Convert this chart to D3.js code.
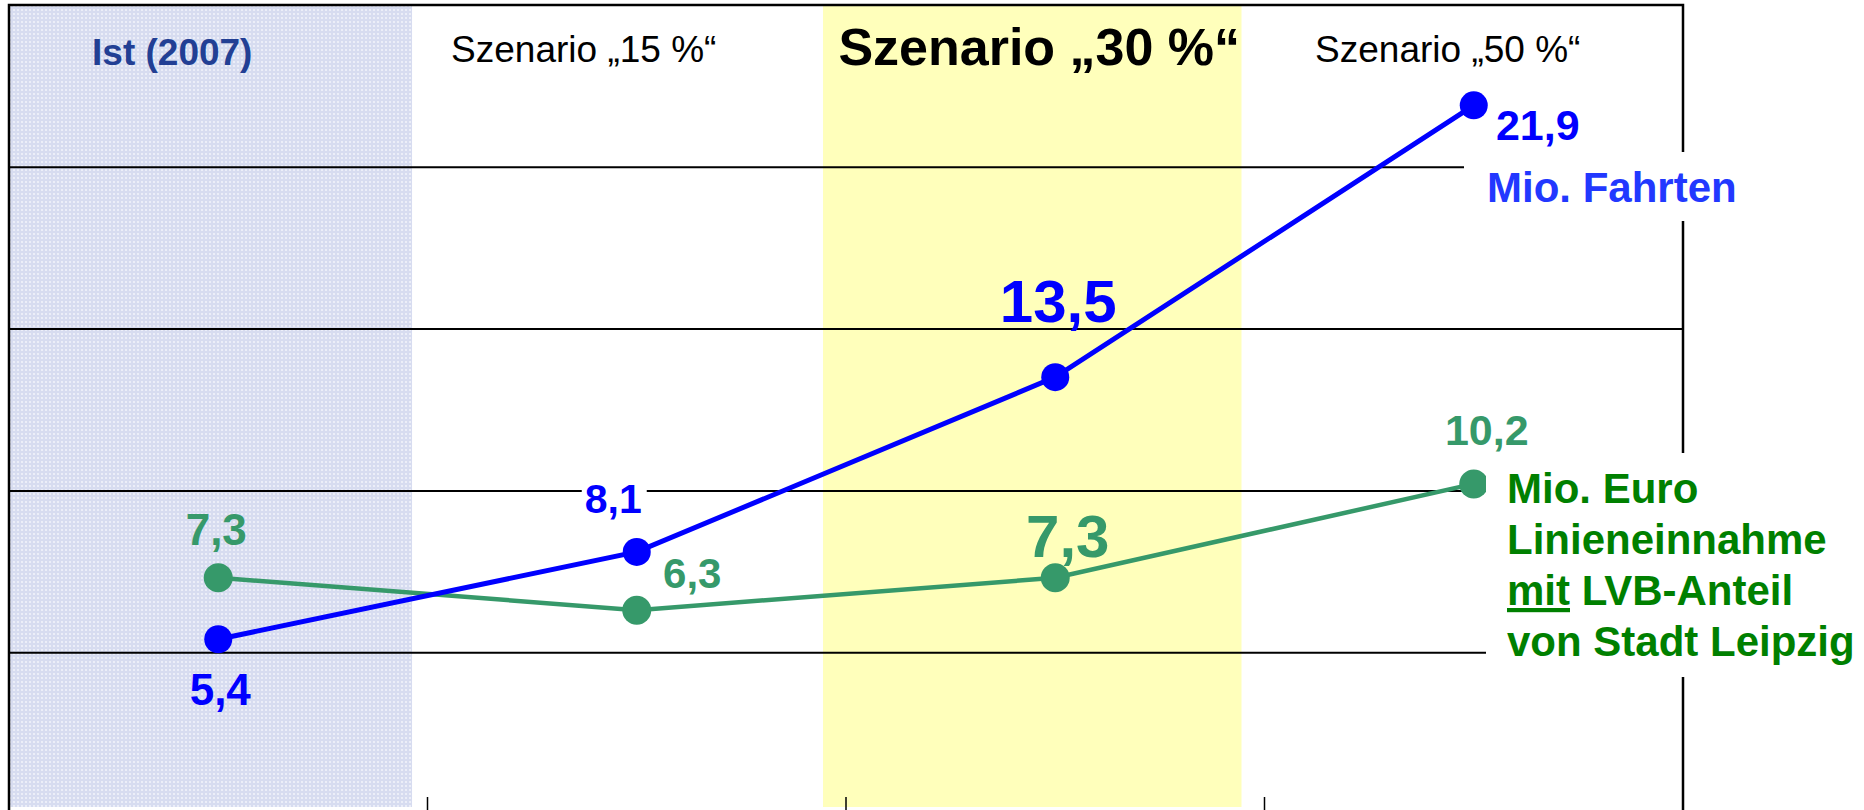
<!DOCTYPE html>
<html lang="de">
<head>
    <meta charset="UTF-8">
    <title>Szenarien Fahrten und Linieneinnahme</title>
    <style>
        body { margin:0; background:#fff; }
        svg { display:block; font-family:"Liberation Sans", Arial, sans-serif; }
    </style>
</head>
<body>
<script src="https://cdn.jsdelivr.net/npm/d3@7/dist/d3.min.js"></script>
<script type="text/javascript">
    // Daten
    var categories = ["Ist (2007)", "Szenario „15 %“", "Szenario „30 %“", "Szenario „50 %“"];
    var fahrten = [5.4, 8.1, 13.5, 21.9];       // Mio. Fahrten
    var einnahmen = [7.3, 6.3, 7.3, 10.2];      // Mio. Euro Linieneinnahme
    var gridValues = [5, 10, 15, 20];
    var yMax = 25;
    var fahrtenLabel = ["Mio. Fahrten"];
    var einnahmenLabel = ["Mio. Euro", "Linieneinnahme", "mit LVB-Anteil", "von Stadt Leipzig"];

    var w = 1864, h = 810;
    // (window.top ist schreibgeschuetzt, daher eigene Namen)
    var pLeft = 9, pRight = 1683, pTop = 5, pBottom = 814;

    var svg = d3.select("body").append("svg")
        .attr("width", w)
        .attr("height", h);

    var x = d3.scaleBand().domain(categories).range([pLeft, pRight]).padding(0);
    var y = d3.scaleLinear().domain([0, yMax]).range([pBottom, pTop]);
    var bw = x.bandwidth();
    var fmt = d3.formatLocale({decimal: ",", thousands: ".", grouping: [3], currency: ["", " €"]}).format(".1f");

    // Punktmuster fuer Ist
    var defs = svg.append("defs");
    var pat = defs.append("pattern").attr("id", "dots")
        .attr("width", 4).attr("height", 4)
        .attr("patternUnits", "userSpaceOnUse");
    pat.append("rect").attr("width", 4).attr("height", 4).attr("fill", "#d7dcf0");
    pat.append("circle").attr("cx", 2).attr("cy", 2).attr("r", 1.1).attr("fill", "#f1f3fa");

    // Hintergrundflaechen
    svg.append("rect")
        .attr("x", x(categories[0]))
        .attr("y", y(yMax))
        .attr("width", bw * 0.963)
        .attr("height", 807 - y(yMax))
        .attr("fill", "url(#dots)");
    svg.append("rect")
        .attr("x", x(categories[2]) - 23)
        .attr("y", y(yMax))
        .attr("width", bw)
        .attr("height", 807 - y(yMax))
        .attr("fill", "#ffffbb");

    // Gitterlinien
    svg.append("g")
        .attr("transform", "translate(" + pLeft + ",0)")
        .call(d3.axisLeft(y).tickValues(gridValues).tickSize(-(pRight - pLeft)).tickFormat(""))
        .call(function (g) { g.select(".domain").remove(); })
        .selectAll("line")
        .attr("stroke", "#000")
        .attr("stroke-width", 2);

    // Rahmen
    svg.append("path")
        .attr("d", "M" + pLeft + "," + pBottom + "V" + y(yMax) + "H" + pRight + "V" + pBottom + "Z")
        .attr("fill", "none")
        .attr("stroke", "#000")
        .attr("stroke-width", 2.5);

    // kleine Striche unten zwischen den Kategorien
    svg.selectAll(".tick-cat")
        .data(categories.slice(1))
        .enter().append("line")
        .attr("x1", function (d) { return x(d); })
        .attr("x2", function (d) { return x(d); })
        .attr("y1", pBottom - 17)
        .attr("y2", pBottom)
        .attr("stroke", "#000")
        .attr("stroke-width", 1.5);

    // Kategorie-Ueberschriften
    var heads = [
        {dx: -46, y: 65, size: 37, weight: "bold", fill: "#223f94"},
        {dx: -53, y: 62, size: 37, weight: "normal", fill: "#000"},
        {dx: -16, y: 65, size: 52, weight: "bold", fill: "#000"},
        {dx: -26, y: 62, size: 37, weight: "normal", fill: "#000"}
    ];
    svg.selectAll(".head")
        .data(categories)
        .enter().append("text")
        .attr("class", "head")
        .text(function (d) { return d; })
        .attr("x", function (d, i) { return x(d) + bw / 2 + heads[i].dx; })
        .attr("y", function (d, i) { return heads[i].y; })
        .attr("text-anchor", "middle")
        .attr("font-size", function (d, i) { return heads[i].size + "px"; })
        .attr("font-weight", function (d, i) { return heads[i].weight; })
        .attr("fill", function (d, i) { return heads[i].fill; });

    var cx = function (d, i) { return x(categories[i]) + bw / 2; };
    var line = d3.line().x(cx).y(function (d) { return y(d); });

    // Linien
    svg.append("path").datum(einnahmen)
        .attr("d", line)
        .attr("fill", "none")
        .attr("stroke", "#36996a")
        .attr("stroke-width", 4.5);
    svg.append("path").datum(fahrten)
        .attr("d", line)
        .attr("fill", "none")
        .attr("stroke", "#0000ff")
        .attr("stroke-width", 5);

    svg.selectAll(".pt-e").data(einnahmen).enter().append("circle")
        .attr("cx", cx).attr("cy", function (d) { return y(d); })
        .attr("r", 14.5).attr("fill", "#36996a");
    svg.selectAll(".pt-f").data(fahrten).enter().append("circle")
        .attr("cx", cx).attr("cy", function (d) { return y(d); })
        .attr("r", 14).attr("fill", "#0000ff");

    // Legendentexte mit weissem Hintergrund
    function boxedText(lines, x0, y0, lh, color, pad) {
        var g = svg.append("g");
        var bg = g.append("rect").attr("fill", "#fff");
        var t = g.append("text")
            .attr("font-size", "42px")
            .attr("font-weight", "bold")
            .attr("fill", color);
        lines.forEach(function (s, i) {
            var ts = t.append("tspan").attr("x", x0).attr("y", y0 + i * lh);
            if (s.indexOf("mit ") === 0) {
                ts.append("tspan").attr("text-decoration", "underline").text("mit");
                ts.append("tspan").text(s.slice(3));
            } else {
                ts.text(s);
            }
        });
        var bb = t.node().getBBox();
        bg.attr("x", bb.x - pad[3]).attr("y", bb.y - pad[0])
            .attr("width", bb.width + pad[1] + pad[3])
            .attr("height", bb.height + pad[0] + pad[2]);
    }
    boxedText(fahrtenLabel, 1487, 202, 51, "#2238ff", [12, 200, 10, 23]);
    boxedText(einnahmenLabel, 1507, 503, 51, "#008000", [12, 200, 12, 21]);

    // Wertebeschriftungen
    var fLab = [
        {dx: 2, dy: 66, size: 44},
        {dx: -23.5, dy: -38.5, size: 41, box: true},
        {dx: 3, dy: -55.5, size: 60},
        {dx: 64, dy: 35, size: 43}
    ];
    var eLab = [
        {dx: -2, dy: -33, size: 44},
        {dx: 55.5, dy: -22, size: 42},
        {dx: 12.5, dy: -20.5, size: 60},
        {dx: 13, dy: -39, size: 43}
    ];

    function valueLabels(data, lab, color) {
        data.forEach(function (d, i) {
            var g = svg.append("g");
            var t = g.append("text")
                .text(fmt(d))
                .attr("x", cx(d, i) + lab[i].dx)
                .attr("y", y(d) + lab[i].dy)
                .attr("text-anchor", "middle")
                .attr("font-size", lab[i].size + "px")
                .attr("font-weight", "bold")
                .attr("fill", color);
            if (lab[i].box) {
                var bb = t.node().getBBox();
                g.insert("rect", "text")
                    .attr("x", bb.x - 3).attr("y", bb.y)
                    .attr("width", bb.width + 8).attr("height", bb.height)
                    .attr("fill", "#fff");
            }
        });
    }
    valueLabels(fahrten, fLab, "#0000ff");
    valueLabels(einnahmen, eLab, "#36996a");
</script>
</body>
</html>
